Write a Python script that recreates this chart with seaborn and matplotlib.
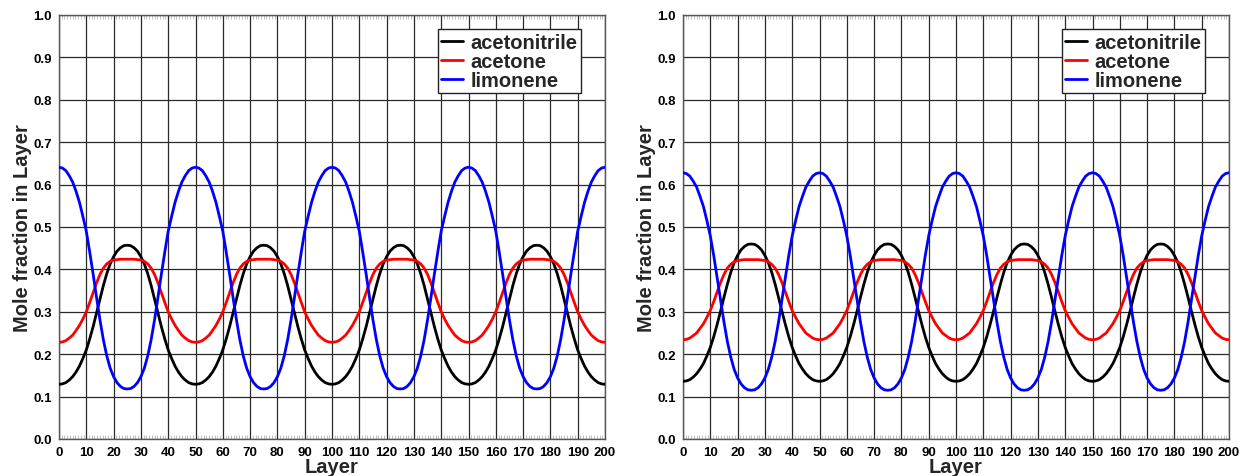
import numpy as np
import pandas as pd
import matplotlib
matplotlib.use("Agg")
import matplotlib.pyplot as plt
from matplotlib.ticker import MultipleLocator, FormatStrFormatter
import seaborn as sns

# Layer positions of the composition profile (every 1.25 layers)
layers = np.arange(0, 200.001, 1.25)

species = ["acetonitrile", "acetone", "limonene"]
line_colors = ["#000000", "#ff0000", "#0000ff"]

# Left system: mole fractions per layer
left_acetonitrile = [
    0.129, 0.130, 0.133, 0.139, 0.147, 0.158, 0.172, 0.190, 0.210, 0.236, 0.265, 0.297, 0.330, 0.362, 0.390, 0.413, 0.430, 0.443, 0.451, 0.456,
    0.457, 0.456, 0.451, 0.443, 0.430, 0.413, 0.390, 0.362, 0.330, 0.297, 0.265, 0.236, 0.210, 0.190, 0.172, 0.158, 0.147, 0.139, 0.133, 0.130,
    0.129, 0.130, 0.133, 0.139, 0.147, 0.158, 0.172, 0.190, 0.210, 0.236, 0.265, 0.297, 0.330, 0.362, 0.390, 0.413, 0.430, 0.443, 0.451, 0.456,
    0.457, 0.456, 0.451, 0.443, 0.430, 0.413, 0.390, 0.362, 0.330, 0.297, 0.265, 0.236, 0.210, 0.190, 0.172, 0.158, 0.147, 0.139, 0.133, 0.130,
    0.129, 0.130, 0.133, 0.139, 0.147, 0.158, 0.172, 0.190, 0.210, 0.236, 0.265, 0.297, 0.330, 0.362, 0.390, 0.413, 0.430, 0.443, 0.451, 0.456,
    0.457, 0.456, 0.451, 0.443, 0.430, 0.413, 0.390, 0.362, 0.330, 0.297, 0.265, 0.236, 0.210, 0.190, 0.172, 0.158, 0.147, 0.139, 0.133, 0.130,
    0.129, 0.130, 0.133, 0.139, 0.147, 0.158, 0.172, 0.190, 0.210, 0.236, 0.265, 0.297, 0.330, 0.362, 0.390, 0.413, 0.430, 0.443, 0.451, 0.456,
    0.457, 0.456, 0.451, 0.443, 0.430, 0.413, 0.390, 0.362, 0.330, 0.297, 0.265, 0.236, 0.210, 0.190, 0.172, 0.158, 0.147, 0.139, 0.133, 0.130,
    0.129,
]
left_acetone = [
    0.228, 0.229, 0.232, 0.238, 0.245, 0.256, 0.268, 0.283, 0.300, 0.322, 0.345, 0.368, 0.388, 0.403, 0.413, 0.419, 0.422, 0.423, 0.424, 0.424,
    0.424, 0.424, 0.424, 0.423, 0.422, 0.419, 0.413, 0.403, 0.388, 0.368, 0.345, 0.322, 0.300, 0.283, 0.268, 0.256, 0.245, 0.238, 0.232, 0.229,
    0.228, 0.229, 0.232, 0.238, 0.245, 0.256, 0.268, 0.283, 0.300, 0.322, 0.345, 0.368, 0.388, 0.403, 0.413, 0.419, 0.422, 0.423, 0.424, 0.424,
    0.424, 0.424, 0.424, 0.423, 0.422, 0.419, 0.413, 0.403, 0.388, 0.368, 0.345, 0.322, 0.300, 0.283, 0.268, 0.256, 0.245, 0.238, 0.232, 0.229,
    0.228, 0.229, 0.232, 0.238, 0.245, 0.256, 0.268, 0.283, 0.300, 0.322, 0.345, 0.368, 0.388, 0.403, 0.413, 0.419, 0.422, 0.423, 0.424, 0.424,
    0.424, 0.424, 0.424, 0.423, 0.422, 0.419, 0.413, 0.403, 0.388, 0.368, 0.345, 0.322, 0.300, 0.283, 0.268, 0.256, 0.245, 0.238, 0.232, 0.229,
    0.228, 0.229, 0.232, 0.238, 0.245, 0.256, 0.268, 0.283, 0.300, 0.322, 0.345, 0.368, 0.388, 0.403, 0.413, 0.419, 0.422, 0.423, 0.424, 0.424,
    0.424, 0.424, 0.424, 0.423, 0.422, 0.419, 0.413, 0.403, 0.388, 0.368, 0.345, 0.322, 0.300, 0.283, 0.268, 0.256, 0.245, 0.238, 0.232, 0.229,
    0.228,
]
left_limonene = [
    0.641, 0.639, 0.633, 0.621, 0.606, 0.584, 0.558, 0.525, 0.490, 0.441, 0.389, 0.334, 0.281, 0.234, 0.196, 0.167, 0.147, 0.133, 0.124, 0.119,
    0.118, 0.119, 0.124, 0.133, 0.147, 0.167, 0.196, 0.234, 0.281, 0.334, 0.389, 0.441, 0.490, 0.525, 0.558, 0.584, 0.606, 0.621, 0.633, 0.639,
    0.641, 0.639, 0.633, 0.621, 0.606, 0.584, 0.558, 0.525, 0.490, 0.441, 0.389, 0.334, 0.281, 0.234, 0.196, 0.167, 0.147, 0.133, 0.124, 0.119,
    0.118, 0.119, 0.124, 0.133, 0.147, 0.167, 0.196, 0.234, 0.281, 0.334, 0.389, 0.441, 0.490, 0.525, 0.558, 0.584, 0.606, 0.621, 0.633, 0.639,
    0.641, 0.639, 0.633, 0.621, 0.606, 0.584, 0.558, 0.525, 0.490, 0.441, 0.389, 0.334, 0.281, 0.234, 0.196, 0.167, 0.147, 0.133, 0.124, 0.119,
    0.118, 0.119, 0.124, 0.133, 0.147, 0.167, 0.196, 0.234, 0.281, 0.334, 0.389, 0.441, 0.490, 0.525, 0.558, 0.584, 0.606, 0.621, 0.633, 0.639,
    0.641, 0.639, 0.633, 0.621, 0.606, 0.584, 0.558, 0.525, 0.490, 0.441, 0.389, 0.334, 0.281, 0.234, 0.196, 0.167, 0.147, 0.133, 0.124, 0.119,
    0.118, 0.119, 0.124, 0.133, 0.147, 0.167, 0.196, 0.234, 0.281, 0.334, 0.389, 0.441, 0.490, 0.525, 0.558, 0.584, 0.606, 0.621, 0.633, 0.639,
    0.641,
]

# Right system: mole fractions per layer
right_acetonitrile = [
    0.136, 0.137, 0.140, 0.146, 0.154, 0.165, 0.178, 0.196, 0.216, 0.241, 0.270, 0.301, 0.334, 0.365, 0.393, 0.416, 0.433, 0.446, 0.454, 0.459,
    0.460, 0.459, 0.454, 0.446, 0.433, 0.416, 0.393, 0.365, 0.334, 0.301, 0.270, 0.241, 0.216, 0.196, 0.178, 0.165, 0.154, 0.146, 0.140, 0.137,
    0.136, 0.137, 0.140, 0.146, 0.154, 0.165, 0.178, 0.196, 0.216, 0.241, 0.270, 0.301, 0.334, 0.365, 0.393, 0.416, 0.433, 0.446, 0.454, 0.459,
    0.460, 0.459, 0.454, 0.446, 0.433, 0.416, 0.393, 0.365, 0.334, 0.301, 0.270, 0.241, 0.216, 0.196, 0.178, 0.165, 0.154, 0.146, 0.140, 0.137,
    0.136, 0.137, 0.140, 0.146, 0.154, 0.165, 0.178, 0.196, 0.216, 0.241, 0.270, 0.301, 0.334, 0.365, 0.393, 0.416, 0.433, 0.446, 0.454, 0.459,
    0.460, 0.459, 0.454, 0.446, 0.433, 0.416, 0.393, 0.365, 0.334, 0.301, 0.270, 0.241, 0.216, 0.196, 0.178, 0.165, 0.154, 0.146, 0.140, 0.137,
    0.136, 0.137, 0.140, 0.146, 0.154, 0.165, 0.178, 0.196, 0.216, 0.241, 0.270, 0.301, 0.334, 0.365, 0.393, 0.416, 0.433, 0.446, 0.454, 0.459,
    0.460, 0.459, 0.454, 0.446, 0.433, 0.416, 0.393, 0.365, 0.334, 0.301, 0.270, 0.241, 0.216, 0.196, 0.178, 0.165, 0.154, 0.146, 0.140, 0.137,
    0.136,
]
right_acetone = [
    0.234, 0.235, 0.238, 0.244, 0.250, 0.261, 0.272, 0.287, 0.303, 0.324, 0.347, 0.369, 0.388, 0.403, 0.412, 0.418, 0.421, 0.422, 0.423, 0.423,
    0.423, 0.423, 0.423, 0.422, 0.421, 0.418, 0.412, 0.403, 0.388, 0.369, 0.347, 0.324, 0.303, 0.287, 0.272, 0.261, 0.250, 0.244, 0.238, 0.235,
    0.234, 0.235, 0.238, 0.244, 0.250, 0.261, 0.272, 0.287, 0.303, 0.324, 0.347, 0.369, 0.388, 0.403, 0.412, 0.418, 0.421, 0.422, 0.423, 0.423,
    0.423, 0.423, 0.423, 0.422, 0.421, 0.418, 0.412, 0.403, 0.388, 0.369, 0.347, 0.324, 0.303, 0.287, 0.272, 0.261, 0.250, 0.244, 0.238, 0.235,
    0.234, 0.235, 0.238, 0.244, 0.250, 0.261, 0.272, 0.287, 0.303, 0.324, 0.347, 0.369, 0.388, 0.403, 0.412, 0.418, 0.421, 0.422, 0.423, 0.423,
    0.423, 0.423, 0.423, 0.422, 0.421, 0.418, 0.412, 0.403, 0.388, 0.369, 0.347, 0.324, 0.303, 0.287, 0.272, 0.261, 0.250, 0.244, 0.238, 0.235,
    0.234, 0.235, 0.238, 0.244, 0.250, 0.261, 0.272, 0.287, 0.303, 0.324, 0.347, 0.369, 0.388, 0.403, 0.412, 0.418, 0.421, 0.422, 0.423, 0.423,
    0.423, 0.423, 0.423, 0.422, 0.421, 0.418, 0.412, 0.403, 0.388, 0.369, 0.347, 0.324, 0.303, 0.287, 0.272, 0.261, 0.250, 0.244, 0.238, 0.235,
    0.234,
]
right_limonene = [
    0.628, 0.626, 0.620, 0.608, 0.594, 0.572, 0.548, 0.515, 0.479, 0.433, 0.381, 0.328, 0.276, 0.230, 0.193, 0.164, 0.144, 0.130, 0.121, 0.116,
    0.115, 0.116, 0.121, 0.130, 0.144, 0.164, 0.193, 0.230, 0.276, 0.328, 0.381, 0.433, 0.479, 0.515, 0.548, 0.572, 0.594, 0.608, 0.620, 0.626,
    0.628, 0.626, 0.620, 0.608, 0.594, 0.572, 0.548, 0.515, 0.479, 0.433, 0.381, 0.328, 0.276, 0.230, 0.193, 0.164, 0.144, 0.130, 0.121, 0.116,
    0.115, 0.116, 0.121, 0.130, 0.144, 0.164, 0.193, 0.230, 0.276, 0.328, 0.381, 0.433, 0.479, 0.515, 0.548, 0.572, 0.594, 0.608, 0.620, 0.626,
    0.628, 0.626, 0.620, 0.608, 0.594, 0.572, 0.548, 0.515, 0.479, 0.433, 0.381, 0.328, 0.276, 0.230, 0.193, 0.164, 0.144, 0.130, 0.121, 0.116,
    0.115, 0.116, 0.121, 0.130, 0.144, 0.164, 0.193, 0.230, 0.276, 0.328, 0.381, 0.433, 0.479, 0.515, 0.548, 0.572, 0.594, 0.608, 0.620, 0.626,
    0.628, 0.626, 0.620, 0.608, 0.594, 0.572, 0.548, 0.515, 0.479, 0.433, 0.381, 0.328, 0.276, 0.230, 0.193, 0.164, 0.144, 0.130, 0.121, 0.116,
    0.115, 0.116, 0.121, 0.130, 0.144, 0.164, 0.193, 0.230, 0.276, 0.328, 0.381, 0.433, 0.479, 0.515, 0.548, 0.572, 0.594, 0.608, 0.620, 0.626,
    0.628,
]

sns.set_theme(style="white")
plt.rcParams["font.family"] = ["Liberation Sans", "DejaVu Sans"]
plt.rcParams["font.weight"] = "bold"
plt.rcParams["axes.labelweight"] = "bold"


def long_frame(acn, ace, lim):
    parts = []
    for name, vals in zip(species, [acn, ace, lim]):
        parts.append(pd.DataFrame({"Layer": layers, "fraction": vals, "species": name}))
    return pd.concat(parts, ignore_index=True)


panels = [
    long_frame(left_acetonitrile, left_acetone, left_limonene),
    long_frame(right_acetonitrile, right_acetone, right_limonene),
]

W, H = 1242, 477
fig = plt.figure(figsize=(W / 100, H / 100), dpi=100)
fig.patch.set_facecolor("white")

ax_lefts = [59, 683]
ax_w = 546
ax_top, ax_bottom = 16, 440

for left_px, df in zip(ax_lefts, panels):
    ax = fig.add_axes([left_px / W, 1 - ax_bottom / H, ax_w / W, (ax_bottom - ax_top) / H])
    sns.lineplot(
        data=df, x="Layer", y="fraction", hue="species",
        hue_order=species, palette=line_colors, linewidth=2.0,
        ax=ax, zorder=3,
    )
    ax.set_xlim(0, 200)
    ax.set_ylim(0, 1)
    ax.xaxis.set_major_locator(MultipleLocator(10))
    ax.xaxis.set_minor_locator(MultipleLocator(1))
    ax.yaxis.set_major_locator(MultipleLocator(0.1))
    ax.yaxis.set_major_formatter(FormatStrFormatter("%.1f"))
    ax.grid(True, which="major", color="#2a2a2a", linewidth=0.9)
    ax.set_axisbelow(True)
    for sp in ax.spines.values():
        sp.set_color("#555555")
        sp.set_linewidth(1.0)
    ax.tick_params(which="major", direction="in", length=0, labelsize=9.5,
                   pad=5, colors="black")
    ax.tick_params(axis="x", which="minor", direction="in", top=True, bottom=True,
                   length=3, width=0.5, color="#aaaaaa")
    for lab in ax.get_xticklabels() + ax.get_yticklabels():
        lab.set_fontweight("bold")
    ax.set_xlabel("Layer", fontsize=14.5, fontweight="bold", labelpad=-1)
    ax.set_ylabel("Mole fraction in Layer", fontsize=14.5, fontweight="bold", labelpad=1)

    handles, labels = ax.get_legend_handles_labels()
    leg = ax.legend(
        handles, labels, loc="upper right",
        bbox_to_anchor=((581 - 59) / 546, (440 - 30) / 424),
        borderaxespad=0, frameon=True, fancybox=False,
        prop={"size": 14.5, "weight": "bold"},
        handlelength=1.1, handletextpad=0.35, labelspacing=0.0,
        borderpad=0.18,
    )
    leg.get_frame().set_edgecolor("#222222")
    leg.get_frame().set_linewidth(1.0)
    leg.get_frame().set_alpha(1)
    for line in leg.get_lines():
        line.set_linewidth(2.0)

fig.savefig("out.png", dpi=100, facecolor="white")
